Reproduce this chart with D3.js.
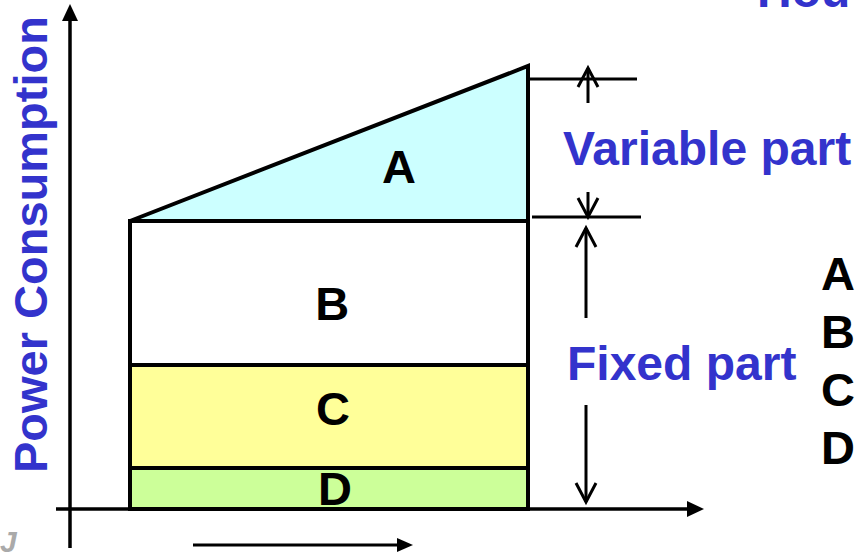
<!DOCTYPE html>
<html>
<head>
<meta charset="utf-8">
<script src="https://cdn.jsdelivr.net/npm/d3@7"></script>
<style>
  html, body { margin: 0; padding: 0; background: #fff; }
  svg { display: block; }
  text { font-family: "Liberation Sans", Arial, sans-serif; font-weight: bold; }
</style>
</head>
<body>
<svg id="chart" width="856" height="553"></svg>
<script>
// ---- data (power units / time units) ----
const layerNames   = ["D", "C", "B"];
const layerBottoms = [0, 4.1, 14.4];
const layerTops    = [4.1, 14.4, 28.8];
const variableName  = "A";
const variableStart = 28.8;   // power at start of period (top of fixed part)
const variableEnd   = 44.3;   // power at end of period
const timeStart = 0, timeEnd = 10;
const labelNames = ["A", "B", "C", "D"];
const labelTime  = [6.76, 5.08, 5.1, 5.15];
const labelPower = [32.6, 18.9, 8.4, 0.4];
const bracketLevels = [43.0, 29.2];
const variableArrows = [[40.6, 44.1], [31.7, 29.2]];
const fixedArrows    = [[19.1, 28.1], [10.4, 0.7]];
const legendLetters  = ["A", "B", "C", "D"];

// ---- styles ----
const fills = { A: "#ccffff", B: "#ffffff", C: "#ffff99", D: "#ccff99" };
const blue = "#3333cc";

const svg = d3.select("#chart");
const x = d3.scaleLinear().domain([0, 10]).range([130, 528]);
const y = d3.scaleLinear().domain([0, 50]).range([509, 9]);

// axes
const axisG = svg.append("g").attr("stroke", "#000");
axisG.append("line").attr("x1", 70).attr("x2", 70).attr("y1", 548).attr("y2", 18).attr("stroke-width", 3.5);
axisG.append("path").attr("d", "M62,21 L70,4 L78,21 Z").attr("fill", "#000").attr("stroke", "none");
axisG.append("line").attr("x1", 56).attr("x2", 690).attr("y1", y(0)).attr("y2", y(0)).attr("stroke-width", 3.5);
axisG.append("path").attr("d", `M687,${y(0)-8} L704,${y(0)} L687,${y(0)+8} Z`).attr("fill", "#000").attr("stroke", "none");
// time arrow under axis
axisG.append("line").attr("x1", 193).attr("x2", 400).attr("y1", 545).attr("y2", 545).attr("stroke-width", 3);
axisG.append("path").attr("d", "M397,538 L413,545 L397,552 Z").attr("fill", "#000").attr("stroke", "none");

// fixed layers
const layers = layerNames.map((n, i) => ({ name: n, b: layerBottoms[i], t: layerTops[i] }));
svg.append("g").selectAll("rect").data(layers).join("rect")
  .attr("x", x(timeStart))
  .attr("width", x(timeEnd) - x(timeStart))
  .attr("y", d => y(d.t))
  .attr("height", d => y(d.b) - y(d.t))
  .attr("fill", d => fills[d.name])
  .attr("stroke", "#000").attr("stroke-width", 4);

// variable part (triangle)
const tri = [[timeStart, variableStart], [timeEnd, variableEnd], [timeEnd, variableStart]];
svg.append("path")
  .attr("d", d3.line().x(d => x(d[0])).y(d => y(d[1]))(tri) + "Z")
  .attr("fill", fills[variableName])
  .attr("stroke", "#000").attr("stroke-width", 4).attr("stroke-linejoin", "miter");

// labels inside
svg.append("g").selectAll("text").data(labelNames).join("text")
  .attr("x", (d, i) => x(labelTime[i]))
  .attr("y", (d, i) => y(labelPower[i]))
  .attr("text-anchor", "middle")
  .attr("font-size", 47)
  .attr("fill", "#000")
  .text(d => d);

// brackets
const ann = svg.append("g").attr("stroke", "#000").attr("stroke-width", 3).attr("fill", "none");
ann.append("line").attr("x1", x(timeEnd)).attr("x2", 637).attr("y1", y(bracketLevels[0])).attr("y2", y(bracketLevels[0]));
ann.append("line").attr("x1", x(timeEnd) + 4).attr("x2", 641).attr("y1", y(bracketLevels[1])).attr("y2", y(bracketLevels[1]));

function arrow(xp, from, to) {
  const y1 = y(from), y2 = y(to);
  const dir = y2 < y1 ? 1 : -1; // up => wings below tip
  ann.append("line").attr("x1", xp).attr("x2", xp).attr("y1", y1).attr("y2", y2);
  ann.append("path").attr("d", `M${xp - 10},${y2 + dir * 19} L${xp},${y2} L${xp + 10},${y2 + dir * 19}`);
}
variableArrows.forEach(a => arrow(588, a[0], a[1]));
fixedArrows.forEach(a => arrow(586, a[0], a[1]));

// texts
svg.append("text").attr("x", 563).attr("y", 165).attr("font-size", 48).attr("fill", blue).text("Variable part");
svg.append("text").attr("x", 567).attr("y", 380).attr("font-size", 48).attr("fill", blue).text("Fixed part");
svg.append("text").attr("x", 757).attr("y", 7).attr("font-size", 48).attr("fill", blue).text("Hou");
svg.append("text").attr("transform", "translate(47,473) rotate(-90)")
  .attr("font-size", 47).attr("fill", blue).text("Power Consumption");

svg.append("g").selectAll("text").data(legendLetters).join("text")
  .attr("x", 821)
  .attr("y", (d, i) => 290 + i * 58)
  .attr("font-size", 47).attr("fill", "#000")
  .text(d => d);

// faint logo fragment
svg.append("text").attr("x", 0).attr("y", 552).attr("font-size", 30).attr("font-style", "italic")
  .attr("fill", "#aaa").text("J");
</script>
</body>
</html>
